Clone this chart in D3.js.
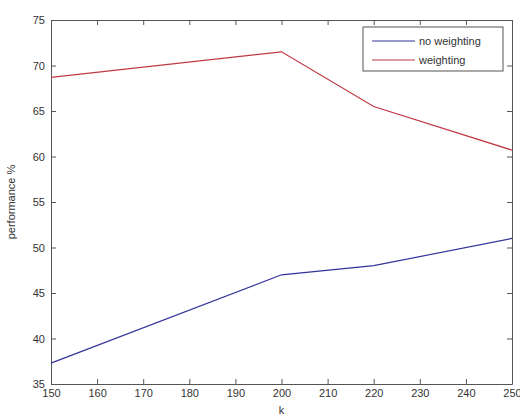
<!DOCTYPE html>
<html>
<head>
<meta charset="utf-8">
<script src="https://cdn.jsdelivr.net/npm/d3@7"></script>
<style>
  body { margin: 0; background: #fff; }
  svg { font-family: "Liberation Sans", Arial, sans-serif; }
</style>
</head>
<body>
<svg id="chart" width="520" height="420"></svg>
<script>
// data
var kValues = [150, 200, 220, 250];
var noWeighting = [37.3, 47.0, 48.0, 51.0];
var weighting = [68.7, 71.5, 65.5, 60.7];
var seriesNames = ["no weighting", "weighting"];
var xTicks = [150, 160, 170, 180, 190, 200, 210, 220, 230, 240, 250];
var yTicks = [35, 40, 45, 50, 55, 60, 65, 70, 75];

var margin = {top: 20, right: 8, bottom: 36, left: 51};
var width = 520 - margin.left - margin.right;
var height = 420 - margin.top - margin.bottom;
var axisColor = "#555";
var colors = ["#33339a", "#c03844"];

var svg = d3.select("#chart").append("g")
    .attr("transform", "translate(" + margin.left + "," + margin.top + ")");

var xScale = d3.scaleLinear().domain([150, 250]).range([0, width]);
var yScale = d3.scaleLinear().domain([35, 75]).range([height, 0]);

// axes, MATLAB style: box with inward ticks on all sides
function styleAxis(g) {
    g.select(".domain").attr("stroke", axisColor);
    g.selectAll(".tick line").attr("stroke", axisColor);
    g.selectAll(".tick text").attr("fill", "#333").style("font-size", "11px");
}

svg.append("g")
    .attr("transform", "translate(0," + height + ")")
    .call(d3.axisBottom(xScale).tickValues(xTicks).tickSizeInner(-5).tickSizeOuter(0).tickPadding(5))
    .call(styleAxis);

svg.append("g")
    .call(d3.axisLeft(yScale).tickValues(yTicks).tickSizeInner(-5).tickSizeOuter(0).tickPadding(6))
    .call(styleAxis);

svg.append("g")
    .call(d3.axisTop(xScale).tickValues(xTicks).tickSizeInner(-5).tickSizeOuter(0).tickFormat(""))
    .call(styleAxis);

svg.append("g")
    .attr("transform", "translate(" + width + ",0)")
    .call(d3.axisRight(yScale).tickValues(yTicks).tickSizeInner(-5).tickSizeOuter(0).tickFormat(""))
    .call(styleAxis);

// lines
var line = d3.line()
    .x(function (d) { return xScale(d.k); })
    .y(function (d) { return yScale(d.v); });

[noWeighting, weighting].forEach(function (values, i) {
    var pts = kValues.map(function (k, j) { return {k: k, v: values[j]}; });
    svg.append("path")
        .datum(pts)
        .attr("fill", "none")
        .attr("stroke", colors[i])
        .attr("stroke-width", 1.2)
        .attr("d", line);
});

// axis labels
svg.append("text")
    .attr("x", width / 2)
    .attr("y", height + 30)
    .attr("text-anchor", "middle")
    .attr("fill", "#333")
    .style("font-size", "11px")
    .text("k");

svg.append("text")
    .attr("transform", "translate(" + (-36) + "," + (height / 2) + ") rotate(-90)")
    .attr("text-anchor", "middle")
    .attr("fill", "#333")
    .style("font-size", "11px")
    .text("performance %");

// legend
var legend = svg.append("g")
    .attr("transform", "translate(" + (width - 149) + ",7)");

legend.append("rect")
    .attr("width", 140)
    .attr("height", 44)
    .attr("fill", "#fff")
    .attr("stroke", axisColor);

seriesNames.forEach(function (name, i) {
    var y = 14 + i * 19;
    legend.append("line")
        .attr("x1", 9).attr("x2", 52)
        .attr("y1", y).attr("y2", y)
        .attr("stroke", colors[i])
        .attr("stroke-width", 1.2);
    legend.append("text")
        .attr("x", 56)
        .attr("y", y + 4)
        .attr("fill", "#333")
        .style("font-size", "11px")
        .text(name);
});
</script>
</body>
</html>
